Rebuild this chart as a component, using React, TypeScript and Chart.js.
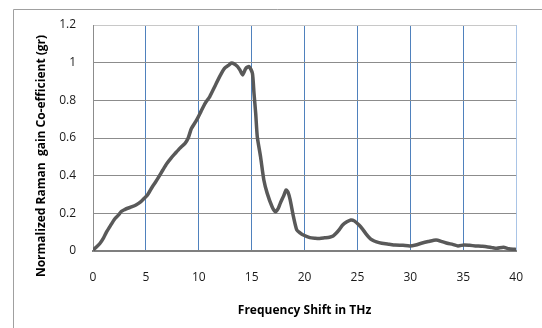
import React, { useEffect, useRef } from 'react';
import { Chart, registerables } from 'chart.js';

Chart.register(...registerables);

const shiftTHz = [
  0, 0.3, 0.65, 1.0, 1.27, 1.65, 2.05, 2.4, 2.67, 3.0,
  3.28, 3.7, 4.06, 4.53, 4.85, 5.15, 5.6, 5.9, 6.23, 6.6,
  7.0, 7.4, 7.78, 8.2, 8.7, 9.0, 9.3, 9.8, 10.2, 10.6,
  11.04, 11.5, 11.97, 12.43, 12.8, 13.05, 13.3, 13.67, 13.9, 14.14,
  14.45, 14.76, 15.07, 15.22, 15.38, 15.53, 15.84, 16.15, 16.47, 16.93,
  17.24, 17.5, 17.7, 18.0, 18.26, 18.45, 18.64, 18.95, 19.26, 19.6,
  19.88, 20.5, 21.0, 21.43, 21.9, 22.36, 22.7, 22.98, 23.3, 23.6,
  24.0, 24.37, 24.7, 25.15, 25.5, 25.77, 26.1, 26.4, 26.8, 27.3,
  28.0, 28.56, 29.3, 29.95, 30.5, 31.04, 31.7, 32.43, 33.0, 33.5,
  34.0, 34.5, 35.07, 35.6, 36.16, 36.7, 37.2, 37.7, 38.17, 38.8,
  39.3, 39.88, 40,
];

const ramanGain = [
  0.005, 0.02, 0.04, 0.07, 0.10, 0.135, 0.17, 0.19, 0.21, 0.22,
  0.227, 0.235, 0.244, 0.262, 0.28, 0.297, 0.34, 0.365, 0.395, 0.43,
  0.466, 0.495, 0.519, 0.545, 0.572, 0.6, 0.65, 0.696, 0.74, 0.784,
  0.82, 0.872, 0.926, 0.97, 0.985, 0.997, 0.995, 0.979, 0.96, 0.935,
  0.97, 0.979, 0.944, 0.837, 0.731, 0.607, 0.5, 0.377, 0.306, 0.235,
  0.209, 0.225, 0.253, 0.29, 0.324, 0.31, 0.271, 0.182, 0.112, 0.095,
  0.085, 0.071, 0.068, 0.067, 0.07, 0.073, 0.08, 0.094, 0.115, 0.138,
  0.155, 0.165, 0.16, 0.138, 0.115, 0.094, 0.072, 0.058, 0.048, 0.041,
  0.036, 0.032, 0.03, 0.027, 0.032, 0.041, 0.05, 0.058, 0.05, 0.041,
  0.035, 0.027, 0.032, 0.03, 0.027, 0.025, 0.023, 0.018, 0.014, 0.02,
  0.012, 0.009, 0.008,
];

const xTitle = 'Frequency Shift in THz';
const yTitle = 'Normalized Raman  gain Co-efficient (gr)';
const xMin = 0, xMax = 40, xStep = 5;
const yMin = 0, yMax = 1.2, yStep = 0.2;

const FONT = '"Open Sans", Lato, sans-serif';

// vertical grid colours by tick index (0..8): axis, inner lines, last line
const xGridColors = ['#8c8c8c', '#4f81bd', '#4f81bd', '#4f81bd', '#4f81bd', '#4f81bd', '#4f81bd', '#4f81bd', '#a9c4e6'];
// horizontal grid colours by tick index (0..6): bottom, inner, top
const yGridColors = ['#8c8c8c', '#8c8c8c', '#8c8c8c', '#8c8c8c', '#8c8c8c', '#8c8c8c', '#c8c8c8'];

const framePlugin = {
  id: 'frameAndYTitle',
  beforeDraw(chart: any) {
    const { ctx, width, height } = chart;
    ctx.save();
    ctx.fillStyle = '#ffffff';
    ctx.fillRect(0, 0, width, height);
    ctx.strokeStyle = '#a0a0a0';
    ctx.lineWidth = 1;
    ctx.beginPath();
    ctx.moveTo(13.5, height);
    ctx.lineTo(13.5, 9.5);
    ctx.lineTo(width, 9.5);
    ctx.stroke();
    ctx.translate(42, 156);
    ctx.rotate(-Math.PI / 2);
    ctx.font = `bold 12px ${FONT}`;
    ctx.fillStyle = '#000000';
    ctx.textAlign = 'center';
    ctx.textBaseline = 'middle';
    ctx.fillText(yTitle, 0, 0);
    ctx.restore();
  },
};

export default function App() {
  const ref = useRef<HTMLCanvasElement>(null);
  useEffect(() => {
    if (!ref.current) return;
    const data = shiftTHz.map((x, i) => ({ x, y: ramanGain[i] }));
    const chart = new Chart(ref.current, {
      type: 'scatter',
      data: {
        datasets: [
          {
            data,
            showLine: true,
            borderColor: '#595959',
            borderWidth: 3.5,
            pointRadius: 0,
            tension: 0.2,
            fill: false,
          },
        ],
      },
      options: {
        animation: false,
        responsive: false,
        maintainAspectRatio: false,
        layout: { padding: { left: 0, right: 19, top: 25, bottom: 0 } },
        plugins: { legend: { display: false }, tooltip: { enabled: false } },
        scales: {
          x: {
            type: 'linear',
            min: xMin,
            max: xMax,
            afterFit: (s: any) => { s.height = 77; },
            ticks: {
              stepSize: xStep,
              padding: 19,
              color: '#1a1a1a',
              font: { family: FONT, size: 12 },
              maxRotation: 0,
            },
            grid: {
              drawTicks: false,
              lineWidth: 1,
              color: xGridColors,
            },
            border: { color: '#7f7f7f', width: 2 },
            title: {
              display: true,
              text: xTitle,
              color: '#000000',
              font: { family: FONT, size: 12, weight: 'bold' },
              padding: { top: 0, bottom: 10 },
            },
          },
          y: {
            type: 'linear',
            min: yMin,
            max: yMax,
            afterFit: (s: any) => { s.width = 93; },
            ticks: {
              stepSize: yStep,
              padding: 17,
              color: '#1a1a1a',
              font: { family: FONT, size: 12 },
              callback: (v: any) => String(Number(Number(v).toFixed(1))),
            },
            grid: {
              drawTicks: false,
              lineWidth: 1,
              color: yGridColors,
            },
            border: { color: '#8c8c8c', width: 1 },
          },
        },
      },
      plugins: [framePlugin],
    });
    return () => chart.destroy();
  }, []);
  return (
    <div style={{ position: 'fixed', left: 0, top: 0, width: 542, height: 328 }}>
      <canvas ref={ref} width={542} height={328} style={{ width: 542, height: 328, display: 'block' }} />
    </div>
  );
}
